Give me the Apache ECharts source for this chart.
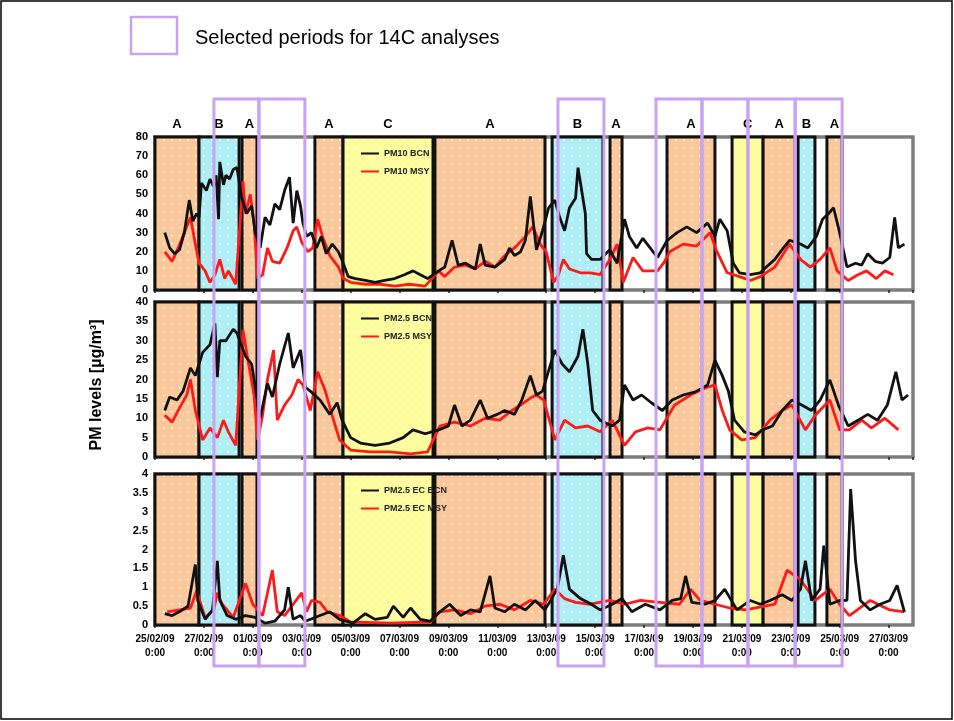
<!DOCTYPE html>
<html>
<head>
<meta charset="utf-8">
<script src="https://cdn.jsdelivr.net/npm/echarts@6/dist/echarts.min.js"></script>
<style>
html,body{margin:0;padding:0;background:#fff;}
#chart{width:954px;height:721px;}
</style>
</head>
<body>
<div id="chart"></div>
<script>
// ---------- DATA ----------
const startDate = [2009, 1, 25]; // 25 Feb 2009 (day 0)
const bandStart = [0, 1.80, 3.56, 6.54, 7.69, 11.45, 16.24, 18.61, 20.94, 23.60, 24.87, 26.30, 27.48];
const bandEnd   = [1.80, 3.44, 4.17, 7.69, 11.37, 15.95, 18.32, 19.10, 22.90, 24.87, 26.18, 26.99, 28.10];
const bandType  = ['A','B','A','A','C','A','B','A','A','C','A','B','A'];
const selStart  = [2.41, 4.25, 16.48, 20.49, 22.37, 24.25, 26.18];
const selEnd    = [4.25, 6.13, 18.36, 22.37, 24.25, 26.18, 28.10];
const names = ['PM10 BCN','PM10 MSY','PM2.5 BCN','PM2.5 MSY','PM2.5 EC BCN','PM2.5 EC MSY'];
const yTicks = [{min:0,max:80,interval:10},{min:0,max:40,interval:5},{min:0,max:4,interval:0.5}];

const pm10Bcn = [[0.4,30],[0.6,22],[0.8,19],[1.0,21],[1.2,30],[1.4,47],[1.55,36],[1.7,40],[1.8,38],
 [1.9,56],[2.1,52],[2.25,58],[2.4,54],[2.5,60],[2.6,37],[2.65,67],[2.8,55],[2.9,60],[3.05,58],[3.2,63],[3.35,64],
 [3.55,48],[3.75,40],[3.95,44],[4.1,30],
 [4.3,22],[4.5,38],[4.7,34],[4.9,45],[5.1,42],[5.3,52],[5.5,59],[5.65,35],[5.8,52],[5.95,44],[6.05,35],[6.2,28],[6.4,30],
 [6.6,22],[6.8,28],[7.0,19],[7.25,24],[7.5,20],[7.7,14],
 [7.9,7],[8.2,6],[8.6,5],[9.0,4],[9.4,5],[9.8,6],[10.2,8],[10.55,10],[10.85,8],[11.15,6],
 [11.6,10],[11.85,12],[12.15,26],[12.4,13],[12.7,14],[13.1,11],[13.3,24],[13.5,13],[13.9,12],[14.3,16],[14.5,22],[14.7,18],[14.95,20],[15.15,26],[15.35,49],[15.6,21],[15.85,31],[16.1,43],
 [16.35,47],[16.55,38],[16.75,31],[16.95,43],[17.2,48],[17.3,64],[17.45,52],[17.6,40],[17.65,19],[17.85,16],[18.2,16],
 [18.6,21],[18.9,14],[19.2,37],[19.4,28],[19.7,22],[19.95,27],[20.25,22],[20.55,17],
 [20.95,26],[21.35,30],[21.75,33],[22.15,30],[22.6,35],[22.9,28],[23.1,37],[23.4,31],
 [23.65,14],[23.9,9],[24.35,8],[24.75,9],
 [25.0,12],[25.35,16],[25.7,22],[25.95,26],
 [26.4,24],[26.7,22],[27.05,28],[27.3,37],
 [27.55,40],[27.75,43],[28.0,30],
 [28.3,12],[28.65,14],[28.9,13],[29.15,19],[29.45,15],[29.75,14],[30.05,17],[30.25,38],[30.4,22],[30.65,24]];
const pm10Msy = [[0.4,20],[0.7,15],[0.95,22],[1.2,30],[1.45,38],[1.65,24],[1.8,14],
 [2.05,10],[2.25,4],[2.45,8],[2.65,16],[2.85,6],[3.0,10],[3.3,3],
 [3.6,57],[3.7,40],[3.9,50],[4.05,35],
 [4.2,6],[4.4,8],[4.6,22],[4.8,15],[5.1,14],[5.4,22],[5.65,31],[5.8,33],[6.0,25],[6.25,20],[6.45,22],
 [6.65,37],[6.85,28],[7.15,18],[7.5,12],[7.7,6],
 [8.0,4],[8.6,3],[9.2,3],[9.8,2],[10.4,3],[11.05,2],
 [11.6,10],[11.85,7],[12.25,12],[12.7,13],[13.1,11],[13.5,15],[13.9,12],[14.3,18],[14.7,22],[15.15,28],[15.45,33],[15.75,24],[16.0,20],
 [16.3,4],[16.5,8],[16.7,16],[16.95,11],[17.4,9],[17.8,9],[18.2,8],
 [18.6,16],[18.9,24],[19.15,4],[19.55,17],[19.95,10],[20.55,10],[20.8,14],
 [21.05,20],[21.6,24],[22.15,23],[22.7,30],[22.95,21],[23.4,9],
 [23.9,7],[24.35,5],[24.75,7],
 [25.35,12],[25.75,20],[25.95,24],
 [26.4,16],[26.8,12],[27.2,16],
 [27.6,22],[27.9,10],
 [28.35,5],[28.75,8],[29.1,10],[29.5,6],[29.85,10],[30.2,8]];
const pm25Bcn = [[0.4,12],[0.6,15.5],[0.9,14.7],[1.15,17],[1.45,23],[1.65,21],
 [1.95,27],[2.25,29],[2.45,34.5],[2.55,20.6],[2.65,30],[2.9,30],[3.2,33],[3.35,32],
 [3.7,26],[3.95,24],
 [4.3,10],[4.6,19],[4.8,15.5],[5.1,24],[5.45,32],[5.65,23],[5.95,27.6],[6.15,18],[6.35,17],
 [6.75,14.7],[7.15,11],[7.45,14],[7.65,9.5],
 [8.0,5],[8.4,3.6],[9.0,3],[9.6,3.6],[10.15,5],[10.55,7],[11.05,6],
 [11.6,7],[12.0,8],[12.25,13.4],[12.55,8],[12.9,9.5],[13.3,14.7],[13.6,10],[14.0,11],[14.3,12],[14.7,11],[15.0,14.7],[15.35,21],[15.6,16],[15.85,17],
 [16.35,27.6],[16.65,24],[16.95,22],[17.3,26],[17.5,33],[17.7,24],[17.9,12],[18.2,9.5],
 [18.7,8],[19.0,9.5],[19.2,18.6],[19.55,14.7],[19.9,16],[20.3,14],[20.75,12],
 [21.15,14.7],[21.6,16],[22.1,16.8],[22.6,18.6],[22.9,25],[23.2,21],[23.45,17],
 [23.7,9.5],[24.1,6.5],[24.55,5.7],[24.85,7],
 [25.25,8],[25.65,12],[26.05,14.7],
 [26.45,13.4],[26.85,12],[27.2,14.7],
 [27.6,19.9],[27.95,13.4],
 [28.35,8],[28.75,9.5],[29.15,11],[29.55,9.5],[29.95,13.4],[30.3,22],[30.55,14.7],[30.8,16]];
const pm25Msy = [[0.4,10.8],[0.7,9],[1.0,12.6],[1.3,16],[1.45,20],[1.65,12],
 [1.95,4.4],[2.25,7.5],[2.55,5],[2.8,9.5],[3.0,6.5],[3.3,3],
 [3.6,32.8],[3.8,25],[4.05,16],
 [4.2,4.4],[4.4,10.8],[4.6,20],[4.85,27.6],[5.0,9.5],[5.3,13.4],[5.6,16],[5.85,20],[6.05,18.6],[6.35,12],
 [6.65,22],[6.95,17.3],[7.3,9.5],[7.55,4.4],
 [8.0,1.8],[8.8,1.3],[9.6,1.3],[10.45,0.8],[11.15,1.3],
 [11.65,8],[12.25,9],[12.9,8],[13.5,10],[14.1,9.5],[14.5,11.6],[14.95,13.4],[15.35,15.2],[15.6,16],[15.9,14.7],
 [16.35,4.4],[16.75,9.5],[17.2,7.5],[17.7,8],[18.2,6.5],
 [18.7,9.5],[19.2,3],[19.65,6.5],[20.15,7.5],[20.65,7],
 [21.25,13.4],[21.9,16],[22.5,17.8],[22.9,18.6],[23.2,12],[23.5,7],
 [24.0,4.4],[24.55,5],
 [25.15,9.5],[25.65,12],[26.05,13.4],
 [26.6,7],[27.0,10.8],
 [27.6,14.7],[28.0,7],
 [28.4,7],[28.9,9.5],[29.3,7.5],[29.85,10],[30.4,7]];
const ecBcn = [[0.4,0.3],[0.7,0.25],[1.0,0.35],[1.35,0.5],[1.65,1.6],[1.75,0.65],
 [2.05,0.15],[2.35,0.4],[2.55,1.7],[2.65,0.65],[2.95,0.25],[3.3,0.15],
 [3.7,0.25],[4.1,0.2],
 [4.5,0.05],[4.9,0.1],[5.3,0.4],[5.45,1.0],[5.65,0.15],[5.95,0.25],[6.15,0.1],
 [6.75,0.25],[7.15,0.35],[7.55,0.15],
 [8.1,0.05],[8.6,0.3],[9.0,0.15],[9.5,0.2],[9.75,0.5],[10.15,0.2],[10.45,0.45],[10.85,0.15],[11.25,0.1],
 [11.65,0.35],[12.05,0.55],[12.5,0.25],[12.9,0.4],[13.3,0.35],[13.7,1.3],[13.9,0.45],[14.3,0.35],[14.7,0.55],[15.15,0.4],[15.55,0.65],[15.95,0.4],
 [16.45,0.95],[16.7,1.85],[16.95,0.95],[17.4,0.7],[17.85,0.55],[18.2,0.4],
 [18.7,0.55],[19.1,0.7],[19.5,0.35],[20.05,0.55],[20.65,0.4],
 [21.15,0.65],[21.5,0.7],[21.7,1.3],[21.95,0.6],[22.5,0.55],[22.9,0.65],[23.3,0.95],
 [23.8,0.4],[24.35,0.65],[24.75,0.55],
 [25.15,0.65],[25.65,0.8],[26.05,0.65],
 [26.4,0.95],[26.6,1.7],[26.85,0.65],[27.2,0.95],[27.35,2.1],
 [27.6,0.55],[28.0,0.65],
 [28.3,0.65],[28.45,3.6],[28.65,1.7],[28.85,0.65],[29.25,0.4],[29.65,0.55],[30.05,0.65],[30.35,1.05],[30.65,0.35]];
const ecMsy = [[0.5,0.35],[1.0,0.4],[1.45,0.45],[1.7,0.9],
 [2.05,0.2],[2.4,0.4],[2.55,0.85],[2.75,0.55],[3.2,0.2],
 [3.7,1.1],[4.0,0.55],
 [4.4,0.25],[4.8,1.45],[5.0,0.35],[5.3,0.25],[5.65,0.55],[6.0,0.85],[6.2,0.35],[6.4,0.65],
 [6.75,0.6],[7.05,0.35],[7.55,0.25],
 [8.0,0.08],[9.6,0.05],[11.25,0.08],
 [11.65,0.35],[12.25,0.4],[12.9,0.3],[13.5,0.5],[14.1,0.55],[14.7,0.4],[15.35,0.65],[15.9,0.55],
 [16.35,0.95],[16.75,0.7],[17.2,0.6],[17.8,0.55],
 [18.6,0.65],[19.2,0.55],[19.85,0.65],[20.65,0.6],
 [21.45,0.55],[21.9,0.95],[22.3,0.65],[22.9,0.55],
 [23.5,0.45],[24.15,0.4],
 [25.35,0.55],[25.85,1.45],
 [26.4,1.2],[27.0,0.65],
 [27.6,0.95],[28.0,0.55],
 [28.4,0.25],[29.25,0.65],[30.05,0.4],[30.65,0.35]];
const panelData = [[pm10Bcn, pm10Msy],[pm25Bcn, pm25Msy],[ecBcn, ecMsy]];

// ---------- STYLE / LAYOUT ----------
const FONT = 'Arial, "Liberation Sans", sans-serif';
const gridTops = [137, 302, 474], gridHeights = [153, 155, 151];
const GL = 155, GW = 758;

function pattern(color){
  const c = document.createElement('canvas'); c.width = 8; c.height = 8;
  const g = c.getContext('2d');
  g.fillStyle = color; g.fillRect(0,0,8,8);
  g.fillStyle = 'rgba(255,255,255,0.95)'; g.fillRect(3,3,1.6,1.6);
  return {image: c, repeat: 'repeat'};
}
const bandFill = {A: pattern('#FBC89C'), B: pattern('#ADEFF5'), C: pattern('#FDFD9C')};

function fmtDate(d){
  const dt = new Date(startDate[0], startDate[1], startDate[2] + Math.round(d));
  const dd = String(dt.getDate()).padStart(2,'0');
  const mm = String(dt.getMonth()+1).padStart(2,'0');
  const yy = String(dt.getFullYear()).slice(2);
  return dd + '/' + mm + '/' + yy + '\n0:00';
}

const chart = echarts.init(document.getElementById('chart'), null, {renderer:'canvas'});

const grids = [], xAxes = [], yAxes = [], series = [], legends = [];
for (let p = 0; p < 3; p++) {
  grids.push({left: GL, top: gridTops[p], width: GW, height: gridHeights[p], show: true,
    borderColor: '#7d7d7d', borderWidth: 3.5, backgroundColor: 'transparent'});
  xAxes.push({type:'value', gridIndex:p, min:0, max:31, interval:2,
    axisLine:{show:false}, splitLine:{show:false},
    axisTick:{show:true, length:3, lineStyle:{color:'#222', width:1.5}},
    axisLabel:{show: p===2, formatter: fmtDate, fontFamily: FONT, fontWeight:'bold', fontSize:10,
      color:'#000', lineHeight:14, margin:7, showMaxLabel:false}});
  yAxes.push({type:'value', gridIndex:p, min:yTicks[p].min, max:yTicks[p].max, interval:yTicks[p].interval,
    axisLine:{show:false}, splitLine:{show:false},
    axisTick:{show:true, inside:true, length:3, lineStyle:{color:'#222', width:1.5}},
    axisLabel:{fontFamily: FONT, fontWeight:'bold', fontSize:11, color:'#000', margin:7}});
  const areaData = bandStart.map((s,i) => [
    {xAxis: s, name: bandType[i], itemStyle:{color: bandFill[bandType[i]]}},
    {xAxis: bandEnd[i]}]);
  const [blk, red] = panelData[p];
  series.push({name: names[2*p], type:'line', xAxisIndex:p, yAxisIndex:p, data: blk,
    symbol:'none', lineStyle:{color:'#111', width:2.8}, itemStyle:{color:'#111'}, z:3,
    markArea:{silent:true, z:1, data: areaData,
      itemStyle:{borderColor:'#111', borderWidth:3, opacity:1},
      label:{show: p===0, position:'top', distance:5, fontFamily: FONT, fontWeight:'bold', fontSize:13, color:'#000'}}});
  series.push({name: names[2*p+1], type:'line', xAxisIndex:p, yAxisIndex:p, data: red,
    symbol:'none', lineStyle:{color:'#FF1a1a', width:2.8}, itemStyle:{color:'#FF1a1a'}, z:2});
  legends.push({data:[{name:names[2*p], icon:'rect', itemStyle:{color:'#111'}},
                      {name:names[2*p+1], icon:'rect', itemStyle:{color:'#FF1a1a'}}],
    orient:'vertical', left:356, top: gridTops[p]+7,
    itemWidth:18, itemHeight:2, itemGap:9, selectedMode:false,
    textStyle:{fontFamily: FONT, fontWeight:'bold', fontSize:9, color:'#222'}});
}

chart.setOption({
  animation:false,
  backgroundColor:'#fff',
  grid: grids, xAxis: xAxes, yAxis: yAxes, series: series, legend: legends
});

// overlay: selected periods, top legend, y title, outer frame
const graphics = [];
graphics.push({type:'rect', shape:{x:1, y:1, width:951, height:718}, style:{fill:'none', stroke:'#000', lineWidth:1.5}, z:100});
graphics.push({type:'rect', shape:{x:131, y:17, width:46, height:37}, style:{fill:'none', stroke:'#C9A2F2', lineWidth:2.5}, z:100});
graphics.push({type:'text', x:195, y:38, style:{text:'Selected periods for 14C analyses', fontFamily: FONT, fontSize:20, fill:'#000', textVerticalAlign:'middle'}, z:100});
graphics.push({type:'text', x:97, y:385, rotation: Math.PI/2,
  style:{text:'PM levels [µg/m³]', fontFamily: FONT, fontWeight:'bold', fontSize:16, fill:'#000', textAlign:'center', textVerticalAlign:'middle'}, z:100});
for (let i = 0; i < selStart.length; i++) {
  const x0 = chart.convertToPixel({xAxisIndex:2}, selStart[i]);
  const x1 = chart.convertToPixel({xAxisIndex:2}, selEnd[i]);
  graphics.push({type:'rect', shape:{x:x0, y:99, width:x1-x0, height:567},
    style:{fill:'none', stroke:'#C9A2F2', lineWidth:3}, z:100});
}
chart.setOption({graphic: graphics});
</script>
</body>
</html>
